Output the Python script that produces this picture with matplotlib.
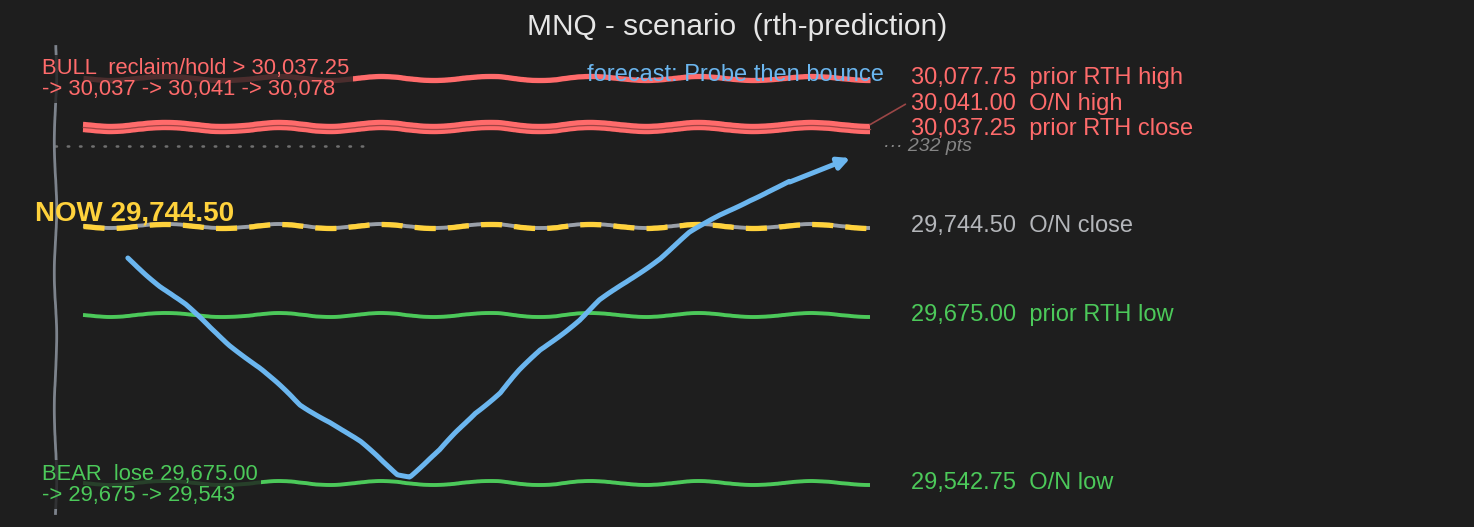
import numpy as np
import matplotlib
matplotlib.use("Agg")
import matplotlib.pyplot as plt
from matplotlib.scale import FuncScale

# ---------------- data ----------------
title = "MNQ - scenario  (rth-prediction)"
level_prices = [30077.75, 30041.00, 30037.25, 29744.50, 29675.00, 29542.75]
level_names = ["prior RTH high", "O/N high", "prior RTH close", "O/N close", "prior RTH low", "O/N low"]
level_kinds = ["res", "res", "res", "now", "sup", "sup"]
now_price = 29744.50
gap_pts = 232

# forecast path (session fraction, price)
fc_x = [0.057, 0.098, 0.130, 0.162, 0.187, 0.225, 0.276, 0.314, 0.352, 0.400, 0.415,
        0.454, 0.498, 0.530, 0.555, 0.581, 0.631, 0.657, 0.682, 0.733, 0.771, 0.809,
        0.847, 0.898, 0.975]
fc_y = [29719.4, 29697.4, 29682.5, 29664.5, 29651.2, 29633.1, 29604.0, 29591.0,
        29575.0, 29550.0, 29548.4, 29568.8, 29598.0, 29614.0, 29631.0, 29647.2,
        29671.0, 29686.0, 29697.0, 29719.4, 29739.0, 29753.0, 29765.0, 29779.0, 29928.0]

bull_text = "BULL  reclaim/hold > 30,037.25\n-> 30,037 -> 30,041 -> 30,078"
bear_text = "BEAR  lose 29,675.00\n-> 29,675 -> 29,543"
forecast_label = "forecast: Probe then bounce"

# ---------------- style ----------------
BG = "#1e1e1e"
RED = "#ff6b6b"
GREEN = "#4cc95a"
BLUE = "#6bb6ef"
YELLOW = "#ffd23c"
GREYTXT = "#b4b6ba"
AXGREY = "#7d838c"

plt.rcParams["font.family"] = ["Liberation Sans", "DejaVu Sans"]

# broken price axis: compress the empty zone between the overnight close and the highs
KP = [29000.0, 29790.0, 30020.0, 31000.0]
KC = [29000.0, 29790.0, 29803.0, 29803.0 + 980.0]
def fwd(p):
    return np.interp(p, KP, KC)
def inv(c):
    return np.interp(c, KC, KP)

fig = plt.figure(figsize=(14.74, 5.27), dpi=100, facecolor=BG)
ax = fig.add_axes([0, 0, 1, 1], facecolor=BG)
ax.set_yscale(FuncScale(ax.yaxis, (fwd, inv)))
pxpt = 1.275
c_now = 29744.5
ax.set_ylim(inv(c_now - 301 / pxpt), inv(c_now + 226 / pxpt))
ax.set_xlim(-83 / 787, (1474 - 83) / 787)

SK = dict(scale=2.0, length=120, randomness=2)

colors = {"res": RED, "sup": GREEN, "now": GREYTXT}
for p, name, kind in zip(level_prices, level_names, level_kinds):
    if kind == "now":
        l1, = ax.plot([0, 1], [p, p], color="#9aa0a8", lw=2.8, zorder=2, solid_capstyle="butt")
        l2, = ax.plot([0, 1], [p, p], color=YELLOW, lw=3.8, ls=(0, (4, 2.3)), zorder=2.1)
        for l in (l1, l2):
            l.set_sketch_params(**SK)
    elif kind == "res":
        lw = 3.8 if p == level_prices[0] else 4.6
        l, = ax.plot([0, 1], [p, p], color=RED, lw=lw, zorder=2, solid_capstyle="butt")
        l.set_sketch_params(**SK)
    else:
        l, = ax.plot([0, 1], [p, p], color=GREEN, lw=2.8, zorder=2, solid_capstyle="butt")
        l.set_sketch_params(**SK)

# thin seam between the two close red levels
seam, = ax.plot([0, 1], [np.mean(level_prices[1:3])] * 2, color="#a04444", lw=0.9, zorder=2.2)
seam.set_sketch_params(**SK)

# right-hand labels
FS = 17
label_offsets = {0: 0, 1: 16, 2: 0, 3: 0, 4: 0, 5: 0}
for i, (p, name, kind) in enumerate(zip(level_prices, level_names, level_kinds)):
    c = colors[kind]
    ly = inv(fwd(p) + label_offsets[i])
    ax.text(1.052, ly, f"{p:,.2f}  {name}", color=c, fontsize=FS, va="center", ha="left", zorder=4)
    if label_offsets[i]:
        ax.annotate("", xy=(1.0, p), xytext=(1.045, ly),
                    arrowprops=dict(arrowstyle="-", color="#9a4646", lw=1.2, shrinkA=0, shrinkB=0))

# axis break marker
brk = inv(29807.2)
ax.plot([-0.0356, 0.358], [brk, brk], color="#707070", lw=1.8, ls=(0, (0.6, 4.3)),
        dash_capstyle="round", zorder=1.5)
ax.text(1.017, brk, f"··· {gap_pts} pts", color="#858585", fontsize=14, style="italic",
        va="center", ha="left")

# left spine as a wobbly axis
ax.spines[["top", "right", "bottom"]].set_visible(False)
ax.spines["left"].set_position(("data", -0.0356))
ax.spines["left"].set_bounds(inv(29519.4), inv(29885.7))
ax.spines["left"].set_color(AXGREY)
ax.spines["left"].set_linewidth(2)
ax.spines["left"].set_sketch_params(scale=1.2, length=150, randomness=2)
ax.set_xticks([])
ax.set_yticks([])
ax.yaxis.set_minor_locator(matplotlib.ticker.NullLocator())

# forecast path
fl, = ax.plot(fc_x[:-1], fc_y[:-1], color=BLUE, lw=3.6, zorder=3, solid_capstyle="round",
              solid_joinstyle="round")
fl.set_sketch_params(scale=1.0, length=120, randomness=2)
ax.annotate("", xy=(fc_x[-1], fc_y[-1]), xytext=(fc_x[-2], fc_y[-2]),
            arrowprops=dict(arrowstyle="-|>,head_length=0.7,head_width=0.35", color=BLUE,
                            lw=3.6, shrinkA=0, shrinkB=0), zorder=3)
ax.text(0.64, inv(fwd(level_prices[0]) + 2), forecast_label, color=BLUE, fontsize=FS,
        va="center", ha="left", zorder=4)

# scenario boxes
box = dict(boxstyle="square,pad=0.15", facecolor=BG, edgecolor="none", alpha=0.8)
ax.text(-0.052, inv(fwd(level_prices[0]) - 1), bull_text, color=RED, fontsize=15.8,
        va="center", ha="left", linespacing=1.0, bbox=box, zorder=3.5)
ax.text(-0.052, inv(fwd(level_prices[5]) - 1), bear_text, color=GREEN, fontsize=15.8,
        va="center", ha="left", linespacing=1.0, bbox=box, zorder=3.5)
ax.text(-0.061, inv(c_now + 10), f"NOW {now_price:,.2f}", color=YELLOW, fontsize=20,
        fontweight="bold", va="center", ha="left", zorder=4)

fig.text(0.5, 1 - 27 / 527, title, color="#e6e6e6", fontsize=21.5, ha="center", va="center")

fig.savefig("out.png", dpi=100, facecolor=BG)
